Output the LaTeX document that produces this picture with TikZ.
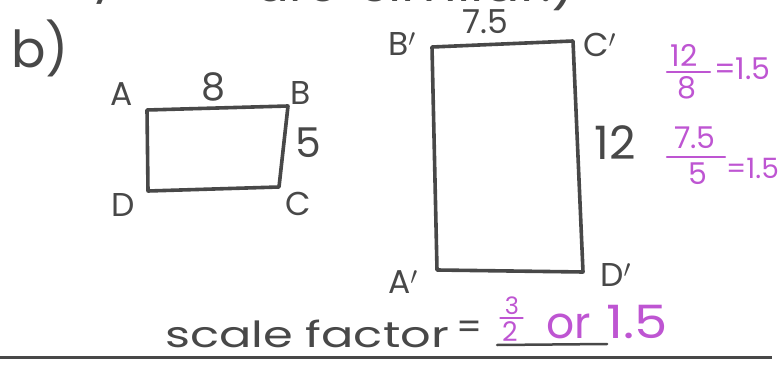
\documentclass[tikz,border=0pt]{standalone}
\usepackage{fontspec}
\setmainfont{Poppins}
\definecolor{ink}{RGB}{72,72,72}
\definecolor{pen}{RGB}{190,85,210}
\tikzset{
  lbl/.style={text=ink, inner sep=0pt, font=\fontsize{33}{33}\selectfont},
  big/.style={text=ink, inner sep=0pt, font=\fontsize{36}{36}\selectfont},
  pink/.style={text=pen, inner sep=0pt, font=\fontsize{30}{30}\selectfont},
  pinkbar/.style={draw=pen, line width=2.2pt, line cap=round},
  outline/.style={draw=ink, line width=3.6pt, line join=round, line cap=round}
}
\begin{document}
\begin{tikzpicture}[x=1pt,y=-1pt]
\useasboundingbox (0,0) rectangle (783,371);
% clipped heading
\begin{scope}
\clip (0,0) rectangle (783,12);
\node[big, anchor=base, font=\fontsize{50}{50}\selectfont] (hy) at (105,-8) {y};
\node[big, anchor=base west, font=\fontsize{50}{50}\selectfont] (ha) at (255,2) {are};
\node[big, anchor=base west, font=\fontsize{50}{50}\selectfont] (hs) at (360,2) {\scalebox{1.08}[1]{similar.)}};
\end{scope}
\node[big, font=\fontsize{51}{51}\selectfont] (b) at (40,48) {b)};
% small rectangle
\coordinate (A) at (147,110);
\coordinate (B) at (288,106);
\coordinate (C) at (279,187);
\coordinate (D) at (148,191);
\draw[outline] (A) -- (B) -- (C) -- (D) -- cycle;
\node[lbl] (lA) at (122,94) {A};
\node[lbl] (lB) at (301,93) {B};
\node[lbl] (lC) at (298,204) {C};
\node[lbl] (lD) at (123,205) {D};
\node[lbl, font=\fontsize{38}{38}\selectfont] (l8) at (213,87) {8};
\node[lbl, font=\fontsize{41}{41}\selectfont] (l5) at (308,143) {5};
% large rectangle
\coordinate (Bp) at (432,47);
\coordinate (Cp) at (573,41);
\coordinate (Dp) at (583,272);
\coordinate (Ap) at (437,270);
\draw[outline] (Bp) -- (Cp) -- (Dp) -- (Ap) -- cycle;
\node[lbl, anchor=west] (lBp) at (388,44) {B$'$};
\node[lbl, anchor=west] (lCp) at (583,45) {C$'$};
\node[lbl, anchor=west] (lAp) at (388,282) {A$'$};
\node[lbl, anchor=west] (lDp) at (600,275) {D$'$};
\node[lbl, font=\fontsize{33}{33}\selectfont] (l75) at (485,22) {7.5};
\node[lbl, font=\fontsize{46}{46}\selectfont] (l12) at (615,143) {12};
% pink work: 12/8 = 1.5
\node[pink] (n1) at (684,55) {12};
\coordinate (b1a) at (667,72);
\coordinate (b1b) at (710,72);
\draw[pinkbar] (b1a) -- (b1b);
\node[pink] (d1) at (687,88) {8};
\node[pink, anchor=west] (e1) at (714,69) {=1.5};
% pink work: 7.5/5 = 1.5
\node[pink] (n2) at (695,138) {7.5};
\coordinate (b2a) at (667,157);
\coordinate (b2b) at (725,157);
\draw[pinkbar] (b2a) -- (b2b);
\node[pink] (d2) at (698,174) {5};
\node[pink, anchor=west, font=\fontsize{28}{28}\selectfont] (e2) at (726,168) {=1.5};
% scale factor line
\node[big, anchor=base west] (sf) at (165,347) {\scalebox{1.33}[1]{scale factor}};
\node[big] (eq) at (470,330) {=};
\node[pink, font=\fontsize{24}{24}\selectfont] (f3) at (512,306) {3};
\coordinate (b3a) at (500,318);
\coordinate (b3b) at (523,318);
\draw[pinkbar, line width=1.2pt] (b3a) -- (b3b);
\node[pink, font=\fontsize{27}{27}\selectfont] (f2) at (510,332) {2};
\node[pink, anchor=base west, font=\fontsize{44}{44}\selectfont] (or) at (546,338) {or};
\node[pink, anchor=base west, font=\fontsize{46}{46}\selectfont] (num) at (606,338) {\scalebox{1.15}[1]{1.5}};
\coordinate (u1) at (497,345);
\coordinate (u2) at (607,344);
\draw[draw=ink, line width=2.5pt, line cap=round] (u1) -- (u2);
\coordinate (h1) at (0,357);
\coordinate (h2) at (772,357);
\draw[draw=ink, line width=3pt] (h1) -- (h2);
\end{tikzpicture}
\end{document}
